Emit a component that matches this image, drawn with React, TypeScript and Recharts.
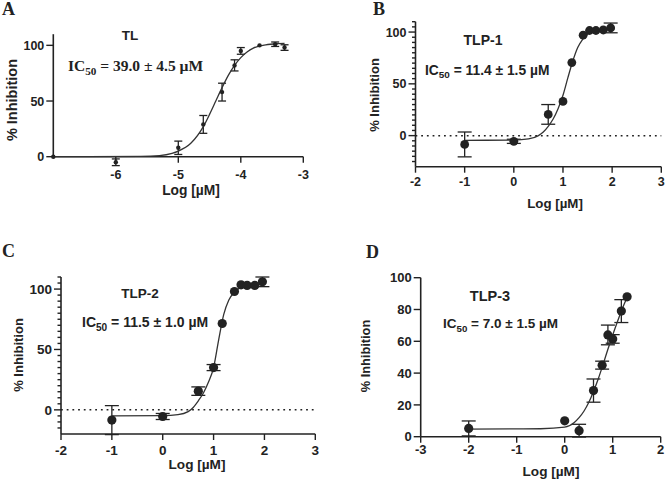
import React from 'react';
import { ComposedChart, Scatter, XAxis, YAxis, ErrorBar, ReferenceLine } from 'recharts';

const W = 666;
const H = 479;
const INK = '#222';
const SANS = '"Liberation Sans", Arial, sans-serif';
const SERIF = '"Liberation Serif", "Times New Roman", serif';

// ---- Panel A: TL (log M) ----
const tlLogConc = [-7, -6, -5, -4.6, -4.3, -4.1, -4.0, -3.7, -3.45, -3.3];
const tlInhibition = [0, -5, 8, 29, 58, 82, 95, 100, 101, 98];
const tlSem = [0, 3, 6, 8, 8, 5, 3, 0, 2, 2.5];
const tlFitX = [-7, -5.6, -5.3, -5.1, -5.0, -4.8, -4.6, -4.5, -4.4, -4.3, -4.2, -4.1, -4.0, -3.9, -3.8, -3.6, -3.4, -3.3];
const tlFitY = [0, 0.3, 1, 3, 5, 12, 27, 38, 50, 62, 73, 82, 89, 94, 97.5, 100.5, 101.5, 101.7];
const tlXTicks = [-6, -5, -4, -3];
const tlYTicks = [0, 50, 100];

// ---- Panel B: TLP-1 ----
const tlp1LogConc = [-1, 0, 0.7, 1.0, 1.18, 1.41, 1.54, 1.67, 1.82, 1.97];
const tlp1Inhibition = [-8.5, -5.5, 20.5, 33, 70.5, 97, 101.5, 101.5, 102, 104];
const tlp1Sem = [12, 2, 9.5, 0, 0, 0, 0, 0, 0, 4.7];
const tlp1FitX = [-1, 0, 0.3, 0.5, 0.6, 0.7, 0.8, 0.9, 1.0, 1.1, 1.2, 1.3, 1.4, 1.5, 1.6, 1.8, 1.97];
const tlp1FitY = [-4.5, -4.3, -3.2, 0, 3.5, 9, 16, 26, 39, 56, 72, 85, 93, 98, 100.5, 102, 102.5];
const tlp1XTicks = [-2, -1, 0, 1, 2, 3];
const tlp1YTicks = [-25, -20, -15, -10, -5, 0, 5, 10, 15, 20, 25, 30, 35, 40, 45, 50, 55, 60, 65, 70, 75, 80, 85, 90, 95, 100, 105, 110];

// ---- Panel C: TLP-2 ----
const tlp2LogConc = [-1, 0, 0.7, 1.0, 1.17, 1.41, 1.54, 1.66, 1.81, 1.96];
const tlp2Inhibition = [-8.5, -5.5, 15.5, 35, 71.5, 98, 103.5, 103, 103, 106];
const tlp2Sem = [12, 2.5, 3.5, 2.5, 0, 0, 0, 0, 0, 4];
const tlp2FitX = [-1, 0, 0.3, 0.5, 0.6, 0.7, 0.8, 0.9, 1.0, 1.1, 1.2, 1.3, 1.4, 1.5, 1.6, 1.8, 1.96];
const tlp2FitY = [-5, -4.8, -4, -1.5, 2, 7.5, 14, 23, 35, 58, 79, 91, 97, 100.5, 102.5, 103.5, 104];
const tlp2XTicks = [-2, -1, 0, 1, 2, 3];
const tlp2YTicks = [-15, -10, -5, 0, 5, 10, 15, 20, 25, 30, 35, 40, 45, 50, 55, 60, 65, 70, 75, 80, 85, 90, 95, 100, 105, 110];

// ---- Panel D: TLP-3 ----
const tlp3LogConc = [-2, 0, 0.3, 0.6, 0.78, 0.9, 1.0, 1.18, 1.3];
const tlp3Inhibition = [5.2, 10, 3.8, 29, 45, 64, 61.5, 79, 88];
const tlp3Sem = [4.7, 0, 4, 7.3, 2.5, 6.2, 2.7, 7.2, 0];
const tlp3FitX = [-2, -1, -0.5, 0, 0.2, 0.3, 0.4, 0.5, 0.6, 0.7, 0.8, 0.9, 1.0, 1.1, 1.2, 1.3];
const tlp3FitY = [4.8, 4.9, 5, 6, 9, 12, 16, 21.5, 28.5, 36.5, 45.5, 55, 64, 72.5, 80.5, 87.5];
const tlp3XTicks = [-3, -2, -1, 0, 1, 2];
const tlp3YTicks = [0, 20, 40, 60, 80, 100];

const toPoints = (xs: number[], ys: number[], es: number[]) =>
  xs.map((x, i) => ({ x, y: ys[i], sem: es[i] }));
const toCurve = (xs: number[], ys: number[]) => xs.map((x, i) => ({ x, y: ys[i] }));

type Box = { left: number; right: number; top: number; bottom: number };

type PanelSpec = {
  box: Box;
  xDomain: [number, number];
  yDomain: [number, number];
  xTicks: number[];
  yTicks: number[];
  majorStep: number;
  xTickGap: number;
  tickFont: number;
  zeroLine: boolean;
  dotR: number;
  capW: number;
  points: { x: number; y: number; sem: number }[];
  curve: { x: number; y: number }[];
};

const panels: PanelSpec[] = [
  {
    box: { left: 53.3, right: 303.3, top: 34.2, bottom: 156.7 },
    xDomain: [-7, -3], yDomain: [0, 110], xTicks: tlXTicks, yTicks: tlYTicks, majorStep: 50,
    xTickGap: 7.5, tickFont: 12.5, zeroLine: false, dotR: 2.2, capW: 4,
    points: toPoints(tlLogConc, tlInhibition, tlSem), curve: toCurve(tlFitX, tlFitY),
  },
  {
    box: { left: 415.5, right: 661.3, top: 21.7, bottom: 166.7 },
    xDomain: [-2, 3], yDomain: [-30, 110], xTicks: tlp1XTicks, yTicks: tlp1YTicks, majorStep: 50,
    xTickGap: 4, tickFont: 12.5, zeroLine: true, dotR: 4.4, capW: 7,
    points: toPoints(tlp1LogConc, tlp1Inhibition, tlp1Sem), curve: toCurve(tlp1FitX, tlp1FitY),
  },
  {
    box: { left: 61, right: 315.3, top: 277, bottom: 434 },
    xDomain: [-2, 3], yDomain: [-20, 110], xTicks: tlp2XTicks, yTicks: tlp2YTicks, majorStep: 50,
    xTickGap: 5, tickFont: 13.5, zeroLine: true, dotR: 4.6, capW: 7,
    points: toPoints(tlp2LogConc, tlp2Inhibition, tlp2Sem), curve: toCurve(tlp2FitX, tlp2FitY),
  },
  {
    box: { left: 420.7, right: 660.7, top: 277.7, bottom: 436.7 },
    xDomain: [-3, 2], yDomain: [0, 100], xTicks: tlp3XTicks, yTicks: tlp3YTicks, majorStep: 20,
    xTickGap: 2, tickFont: 13, zeroLine: false, dotR: 4.6, capW: 7,
    points: toPoints(tlp3LogConc, tlp3Inhibition, tlp3Sem), curve: toCurve(tlp3FitX, tlp3FitY),
  },
];

const Y_AXIS_W = 40;
const X_AXIS_H = 30;
const Y_TICK_SIZE = 7;
const Y_TICK_MARGIN = 2;
const PAD = 12; // extra value range around the data layer so nothing is clipped

// y-axis tick: long mark + label on major values, short mark on minor values
const YTick = (props: any) => {
  const { x, y, payload, majorStep, fontSize } = props;
  const v = payload.value as number;
  const axisX = x + Y_TICK_SIZE + Y_TICK_MARGIN;
  const major = Math.abs(v % majorStep) < 1e-9;
  return (
    <g>
      <line x1={axisX - (major ? Y_TICK_SIZE : 3.5)} x2={axisX} y1={y} y2={y} stroke={INK} strokeWidth={1.4} />
      {major && (
        <text x={x} y={y} dy="0.36em" textAnchor="end" fill={INK} fontSize={fontSize} fontWeight={700} fontFamily={SANS}>
          {v}
        </text>
      )}
    </g>
  );
};

const noMarker = () => <g />;

const Frame = ({ p }: { p: PanelSpec }) => {
  const { box } = p;
  return (
    <div style={{ position: 'absolute', left: 0, top: 0 }}>
      <ComposedChart
        width={W}
        height={H}
        margin={{ top: box.top, left: box.left - Y_AXIS_W, right: W - box.right, bottom: H - box.bottom - X_AXIS_H }}
      >
        <XAxis
          type="number"
          dataKey="x"
          domain={p.xDomain}
          ticks={p.xTicks}
          allowDataOverflow
          interval={0}
          height={X_AXIS_H}
          tickSize={6}
          tickMargin={p.xTickGap}
          axisLine={{ stroke: INK, strokeWidth: 1.6 }}
          tickLine={{ stroke: INK, strokeWidth: 1.4 }}
          tick={{ fill: INK, fontSize: p.tickFont, fontWeight: 700, fontFamily: SANS }}
        />
        <YAxis
          type="number"
          dataKey="y"
          domain={p.yDomain}
          ticks={p.yTicks}
          allowDataOverflow
          interval={0}
          width={Y_AXIS_W}
          tickSize={Y_TICK_SIZE}
          tickMargin={Y_TICK_MARGIN}
          tickLine={false}
          axisLine={{ stroke: INK, strokeWidth: 1.6 }}
          tick={<YTick majorStep={p.majorStep} fontSize={p.tickFont} />}
        />
        {p.zeroLine && (
          <ReferenceLine y={0} stroke={INK} strokeWidth={1.5} strokeDasharray="1.8 3.9" />
        )}
      </ComposedChart>
    </div>
  );
};

const DataLayer = ({ p }: { p: PanelSpec }) => {
  const { box } = p;
  const pxPerUnit = (box.bottom - box.top) / (p.yDomain[1] - p.yDomain[0]);
  const padPx = PAD * pxPerUnit;
  const dot = (s: any) => <circle cx={s.cx} cy={s.cy} r={p.dotR} fill={INK} />;
  return (
    <div style={{ position: 'absolute', left: 0, top: 0 }}>
      <ComposedChart
        width={W}
        height={H}
        margin={{ top: box.top - padPx, bottom: H - box.bottom - padPx, left: box.left, right: W - box.right }}
      >
        <XAxis hide type="number" dataKey="x" domain={p.xDomain} />
        <YAxis hide type="number" dataKey="y" domain={[p.yDomain[0] - PAD, p.yDomain[1] + PAD]} />
        <Scatter
          data={p.curve}
          line={{ stroke: '#333', strokeWidth: 1.3 }}
          lineJointType="monotone"
          shape={noMarker}
          isAnimationActive={false}
        />
        <Scatter data={p.points} shape={dot} isAnimationActive={false}>
          <ErrorBar dataKey="sem" direction="y" width={p.capW} stroke={INK} strokeWidth={1.3} />
        </Scatter>
      </ComposedChart>
    </div>
  );
};

type Caption = {
  letter: string; letterX: number; letterY: number;
  title: string; titleX: number; titleY: number; titleSize: number;
  ic: string; icX: number; icY: number; icSize: number; icFont: string;
  yTitleX: number; yTitleY: number; yTitleSize: number;
  xTitleX: number; xTitleY: number; xTitleSize: number;
};

const captions: Caption[] = [
  {
    letter: 'A', letterX: 2, letterY: 15,
    title: 'TL', titleX: 130, titleY: 40, titleSize: 13.5,
    ic: ' = 39.0 ± 4.5 µM', icX: 68, icY: 70.5, icSize: 15.5, icFont: SERIF,
    yTitleX: 12, yTitleY: 100, yTitleSize: 14.5,
    xTitleX: 191, xTitleY: 195, xTitleSize: 13.8,
  },
  {
    letter: 'B', letterX: 373, letterY: 15,
    title: 'TLP-1', titleX: 483, titleY: 45, titleSize: 14,
    ic: ' = 11.4 ± 1.5 µM', icX: 425, icY: 74.5, icSize: 13.8, icFont: SANS,
    yTitleX: 374, yTitleY: 95, yTitleSize: 13,
    xTitleX: 555, xTitleY: 207.5, xTitleSize: 13.3,
  },
  {
    letter: 'C', letterX: 2, letterY: 257,
    title: 'TLP-2', titleX: 140, titleY: 298, titleSize: 13.5,
    ic: ' = 11.5 ± 1.0 µM', icX: 82, icY: 327, icSize: 14, icFont: SANS,
    yTitleX: 18, yTitleY: 355, yTitleSize: 13,
    xTitleX: 197, xTitleY: 469, xTitleSize: 13.6,
  },
  {
    letter: 'D', letterX: 366, letterY: 258,
    title: 'TLP-3', titleX: 490, titleY: 301, titleSize: 14.5,
    ic: ' = 7.0 ± 1.5 µM', icX: 443, icY: 328, icSize: 13.5, icFont: SANS,
    yTitleX: 365, yTitleY: 356, yTitleSize: 12.8,
    xTitleX: 551, xTitleY: 476, xTitleSize: 13.6,
  },
];

const Captions = () => (
  <svg width={W} height={H} style={{ position: 'absolute', left: 0, top: 0, pointerEvents: 'none' }}>
    {captions.map((c) => (
      <g key={c.letter} fill={INK}>
        <text x={c.letterX} y={c.letterY} fontFamily={SERIF} fontWeight={700} fontSize={18}>{c.letter}</text>
        <text x={c.titleX} y={c.titleY} textAnchor="middle" fontFamily={SANS} fontWeight={700} fontSize={c.titleSize}>
          {c.title}
        </text>
        <text x={c.icX} y={c.icY} fontFamily={c.icFont} fontWeight={700} fontSize={c.icSize} style={{ whiteSpace: 'pre' }}>
          <tspan>IC</tspan>
          <tspan fontSize={c.icSize * 0.72} dy={c.icSize * 0.28}>50</tspan>
          <tspan dy={-c.icSize * 0.28}>{c.ic}</tspan>
        </text>
        <text
          transform={`translate(${c.yTitleX},${c.yTitleY}) rotate(-90)`}
          dy="0.36em"
          textAnchor="middle"
          fontFamily={SANS}
          fontWeight={700}
          fontSize={c.yTitleSize}
        >
          % Inhibition
        </text>
        <text x={c.xTitleX} y={c.xTitleY} textAnchor="middle" fontFamily={SANS} fontWeight={700} fontSize={c.xTitleSize}>
          Log [µM]
        </text>
      </g>
    ))}
  </svg>
);

export default function App() {
  return (
    <div style={{ position: 'absolute', left: 0, top: 0, width: W, height: H, background: '#fff' }}>
      {panels.map((p, i) => (
        <Frame key={`f${i}`} p={p} />
      ))}
      {panels.map((p, i) => (
        <DataLayer key={`d${i}`} p={p} />
      ))}
      <Captions />
    </div>
  );
}
